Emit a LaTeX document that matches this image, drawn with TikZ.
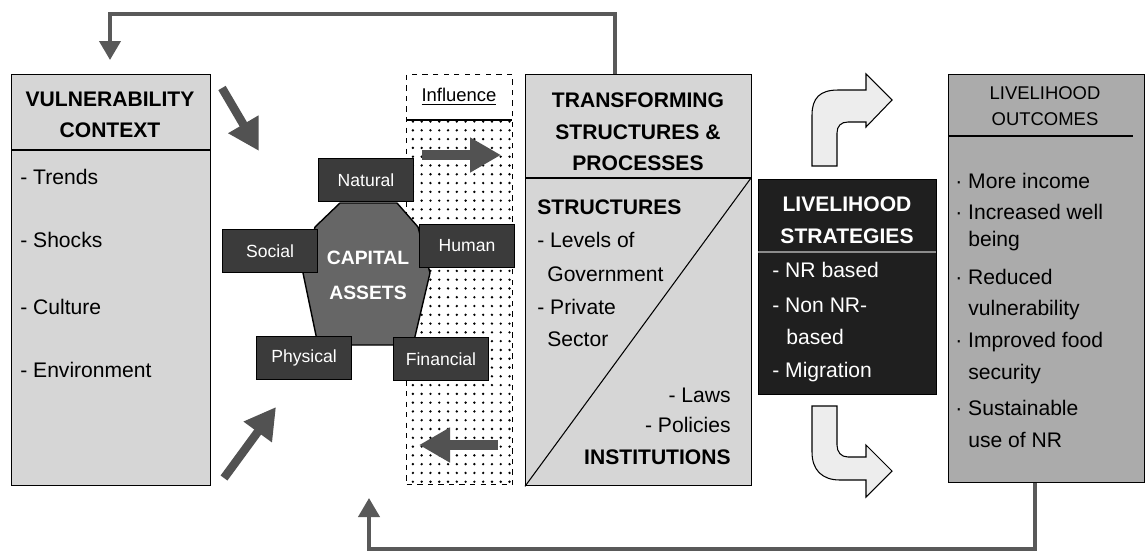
\documentclass[tikz,border=0pt]{standalone}
\usepackage{fontspec}
\setmainfont{Liberation Sans}
\usetikzlibrary{arrows.meta,patterns.meta}

\begin{document}
\begin{tikzpicture}[x=0.02cm,y=-0.02cm,
    box/.style={draw,line width=0.8pt,anchor=north west,inner sep=0pt},
    lightbox/.style={box,fill=black!16},
    capnode/.style={draw=black,line width=0.9pt,fill=black!77,text=white,
      minimum width=1.9cm,minimum height=0.86cm,inner sep=0pt,
      font=\fontsize{10}{12}\selectfont},
    item/.style={anchor=west,inner sep=0pt,font=\fontsize{12}{14}\selectfont},
    ritem/.style={item,anchor=east},
    title/.style={align=center,inner sep=0pt,font=\bfseries\fontsize{12}{18}\selectfont},
    fb/.style={draw=black!65,line width=0.08cm,-{Triangle[length=0.38cm,width=0.42cm]}},
    fat/.style={draw=black!68,line width=0.17cm,-{Triangle[length=0.62cm,width=0.66cm]}},
    bendarrow/.style={draw=black,fill=black!7,line width=0.6pt}]
  \useasboundingbox (0,0) rectangle (1145,552);

  % vulnerability context
  \node[lightbox,minimum width=3.98cm,minimum height=8.22cm] (vuln) at (11,74) {};
  \draw[line width=0.8pt] (11,150) -- (210,150);
  \node[title] (vulnT) at (110,115) {VULNERABILITY\\CONTEXT};
  \foreach \txt/\yy [count=\i] in {- Trends/177,- Shocks/240,- Culture/307,- Environment/370}
    \node[item] (vuln-\i) at (20,\yy) {\txt};

  % influence strip
  \fill[pattern={Dots[distance=5pt,radius=0.75pt]}] (407,121) rectangle (511,483);
  \node[box,dashed,minimum width=2.12cm,minimum height=8.2cm] (infl) at (406,74) {};
  \draw[line width=0.8pt] (406,120) -- (512,120);
  \node[inner sep=0pt,font=\fontsize{10.5}{12}\selectfont] (inflT) at (459,97) {\underline{Influence}};
  \coordinate (inA) at (422,155);
  \coordinate (inB) at (501,155);
  \coordinate (inC) at (498,445);
  \coordinate (inD) at (419,445);
  \draw[fat,line width=0.2cm] (inA) -- (inB);
  \draw[fat,line width=0.2cm] (inC) -- (inD);

  % capital assets
  \filldraw[fill=black!60,line width=0.8pt] (340,203) -- (397,203) -- (418,227) -- (430,273)
    -- (413,345) -- (318,345) -- (303,273) -- (315,227) -- cycle;
  \node[inner sep=0pt,text=white,align=center,font=\bfseries\fontsize{11}{20}\selectfont]
    (capT) at (368,275) {CAPITAL\\ASSETS};
  \node[capnode] (natural) at (366,180) {Natural};
  \node[capnode] (social) at (270,251) {Social};
  \node[capnode] (human) at (467,246) {Human};
  \node[capnode] (physical) at (304,358) {Physical};
  \node[capnode] (financial) at (441,359) {Financial};

  % arrows from vulnerability context
  \coordinate (vcA) at (222,88);
  \coordinate (vcB) at (259,151);
  \coordinate (vcC) at (224,478);
  \coordinate (vcD) at (276,407);
  \draw[fat] (vcA) -- (vcB);
  \draw[fat] (vcC) -- (vcD);

  % transforming structures
  \node[lightbox,minimum width=4.52cm,minimum height=8.22cm] (trans) at (525,74) {};
  \draw[line width=0.8pt] (525,178) -- (751,178);
  \draw[line width=0.6pt] (trans.south west) -- (751,178);
  \node[title] (transT) at (638,132) {TRANSFORMING\\STRUCTURES \&\\PROCESSES};
  \node[item,font=\bfseries\fontsize{12}{14}\selectfont] (structT) at (537,207) {STRUCTURES};
  \foreach \xx/\yy/\txt [count=\i] in {537/240/- Levels of,547/274/Government,537/307/- Private,547/339/Sector}
    \node[item] (struct-\i) at (\xx,\yy) {\txt};
  \node[ritem] (inst-1) at (731,395) {- Laws};
  \node[ritem] (inst-2) at (731,425) {- Policies};
  \node[ritem,font=\bfseries\fontsize{12}{14}\selectfont] (instT) at (731,457) {INSTITUTIONS};

  % livelihood strategies
  \node[box,fill=black!88,minimum width=3.56cm,minimum height=4.3cm] (strat) at (758,179) {};
  \draw[black!45,line width=0.8pt] (758,252) -- (936,252);
  \node[title,text=white] (stratT) at (847,220) {LIVELIHOOD\\STRATEGIES};
  \foreach \xx/\yy/\txt [count=\i] in {772/270/- NR based,772/305/- Non NR-,786/337/based,772/372/- Migration}
    \node[item,text=white] (strat-\i) at (\xx,\yy) {\txt};

  % bent arrows
  \filldraw[bendarrow] (812,166) -- (812,115) .. controls (812,98) and (820,90) .. (838,90)
    -- (866,90) -- (866,74) -- (892,100) -- (866,127) -- (866,122) -- (848,122)
    .. controls (841,122) and (837,126) .. (837,133) -- (837,166) -- cycle;
  \filldraw[bendarrow] (812,406) -- (837,406) -- (837,445) .. controls (837,452) and (841,457) .. (848,457)
    -- (866,457) -- (866,445) -- (892,471) -- (866,497) -- (866,480) -- (840,480)
    .. controls (822,480) and (812,470) .. (812,452) -- cycle;

  % livelihood outcomes
  \node[box,fill=black!33,minimum width=3.92cm,minimum height=8.16cm] (outc) at (948,74) {};
  \draw[line width=0.8pt] (948,136) -- (1133,136);
  \node[inner sep=0pt,align=center,font=\fontsize{10.5}{15}\selectfont] (outcT) at (1045,106) {LIVELIHOOD\\OUTCOMES};
  \foreach \xx/\yy/\txt [count=\i] in {955/181/· More income,955/212/· Increased well,968/241/being,
      955/277/· Reduced,968/310/vulnerability,955/342/· Improved food,968/374/security,
      955/408/· Sustainable,968/440/use of NR}
    \node[item] (outc-\i) at (\xx,\yy) {\txt};

  % feedback lines
  \coordinate (topR) at (615,14);
  \coordinate (topL) at (110,14);
  \draw[fb,shorten >=0.28cm] (trans.north -| topR) -- (topR) -- (topL) -- (vuln.north -| topL);
  \coordinate (botR) at (1035,549);
  \coordinate (botL) at (369,549);
  \coordinate (capTip) at (369,498);
  \draw[fb] (outc.south -| botR) -- (botR) -- (botL) -- (capTip);
\end{tikzpicture}
\end{document}
